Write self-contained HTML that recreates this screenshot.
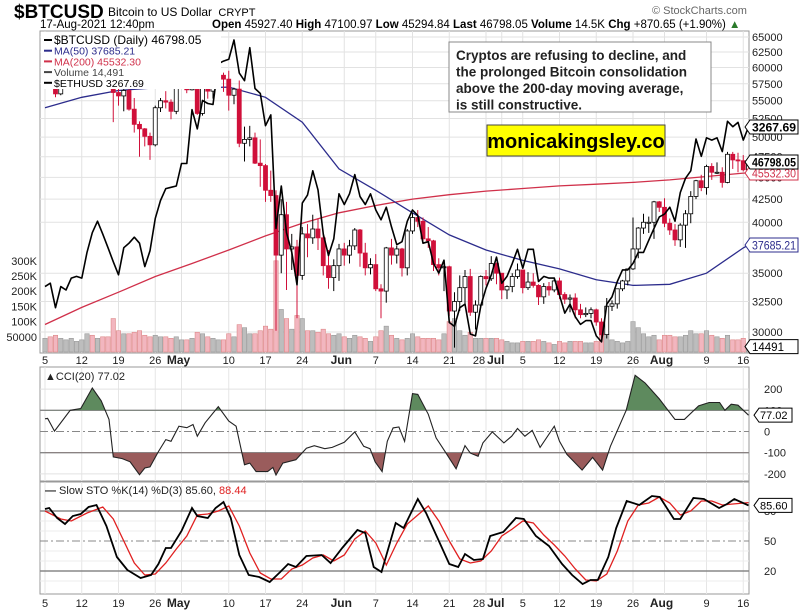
<!DOCTYPE html>
<html><head><meta charset="utf-8">
<style>
body{margin:0;background:#fff;width:803px;height:611px;overflow:hidden;font-family:"Liberation Sans",sans-serif;}
svg text{font-family:"Liberation Sans",sans-serif;}
</style></head>
<body>
<svg id="chart" width="803" height="611" viewBox="0 0 803 611" xmlns="http://www.w3.org/2000/svg">
  <rect x="0" y="0" width="803" height="611" fill="#fff"/>
  <text x="14" y="18" font-size="19" font-weight="bold">$BTCUSD</text>
  <text x="108" y="16" font-size="12">Bitcoin to US Dollar <tspan font-size="11" dx="3">CRYPT</tspan></text>
  <text x="40" y="28" font-size="11.5">17-Aug-2021 12:40pm</text>
  <text x="212" y="28" font-size="11.5"><tspan font-weight="bold">Open</tspan> 45927.40 <tspan font-weight="bold">High</tspan> 47100.97 <tspan font-weight="bold">Low</tspan> 45294.84 <tspan font-weight="bold">Last</tspan> 46798.05 <tspan font-weight="bold">Volume</tspan> 14.5K <tspan font-weight="bold">Chg</tspan> +870.65 (+1.90%) <tspan fill="#2a7a2a">▲</tspan></text>
  <text x="652" y="14" font-size="11" fill="#666">© StockCharts.com</text>
  <g id="main"></g>
  <g id="cci"></g>
  <g id="sto"></g>
</svg>
<script>
// ---------- DATA ----------
const closes = [58.7,57.9,56.0,58.0,58.1,59.8,59.8,59.9,63.5,63.0,63.1,61.3,60.0,56.2,55.7,56.5,53.8,51.7,51.1,50.1,49.0,54.0,55.0,54.8,53.5,57.7,
57.8,56.6,57.2,53.2,57.5,56.4,57.3,58.8,58.2,55.8,56.7,49.2,49.7,49.9,46.7,46.4,43.5,42.9,36.7,40.8,37.3,37.5,34.8,38.8,38.4,39.3,38.4,35.7,34.6,35.7,37.3,
36.7,37.6,39.2,36.9,35.5,35.8,33.6,33.4,37.4,36.7,37.3,35.5,39.1,40.5,40.1,38.3,38.1,35.8,35.5,35.6,31.7,32.5,33.7,34.7,31.6,32.2,34.7,34.5,35.9,35.0,
33.5,33.8,34.7,35.3,33.7,34.2,33.9,32.9,33.8,33.5,34.3,33.1,32.7,32.8,31.8,31.4,31.5,31.8,30.8,29.8,32.1,32.3,33.6,34.3,35.4,37.3,39.4,40.0,40.0,42.2,41.6,
39.9,39.2,38.2,39.7,40.9,42.8,44.6,43.8,46.3,45.6,45.6,44.4,47.8,47.1,47.0,45.9,46.8];
const firstOpen = 58.0;
const highs = [59.4,59.4,58.6,58.2,59.0,61.2,60.6,61.2,63.7,64.9,63.8,63.6,62.5,60.4,57.5,57.5,56.8,55.4,52.1,51.2,50.6,54.3,55.4,56.4,55.2,57.9,
58.4,57.9,58.9,57.2,57.9,58.3,58.6,59.5,59.2,59.5,56.9,58.0,51.4,51.5,50.6,49.7,46.6,45.8,43.5,42.5,42.2,38.8,38.2,39.5,39.8,40.8,40.4,38.9,37.2,36.3,37.8,
37.9,38.2,39.4,39.3,37.9,36.4,36.8,34.0,37.5,38.3,37.6,37.4,39.3,41.0,41.3,40.5,39.5,38.2,36.4,36.0,35.7,33.3,34.8,35.3,35.4,32.6,34.8,35.3,36.6,36.0,
35.0,33.9,35.0,35.9,35.3,35.1,35.0,34.0,34.1,34.2,34.6,34.6,33.3,33.1,33.2,32.3,32.0,32.0,31.9,31.1,32.8,32.6,33.6,34.4,35.4,40.5,39.5,40.9,40.6,42.3,42.3,
42.6,40.4,39.8,39.9,41.3,43.4,44.7,45.3,46.5,46.7,46.8,46.2,48.1,48.1,48.0,47.7,47.1];
const lows = [57.0,57.4,55.5,55.8,57.0,57.9,59.4,59.4,59.8,61.4,62.0,60.0,59.6,52.0,54.3,53.5,53.6,50.6,47.5,48.8,47.1,48.8,53.4,53.9,52.4,53.1,
57.0,56.1,56.5,53.0,52.9,55.3,55.3,56.9,56.3,53.6,54.5,48.7,46.9,48.8,46.6,43.9,42.2,42.2,30.1,35.0,33.5,35.3,31.1,34.4,36.5,37.8,37.2,34.8,33.6,33.4,34.3,
35.7,35.9,37.2,35.6,34.8,34.9,33.4,31.1,32.4,35.8,35.9,34.7,34.8,38.8,39.5,38.1,37.4,35.2,34.8,33.4,31.3,28.8,31.7,32.3,31.3,30.2,32.0,33.9,34.3,34.0,
32.7,32.7,33.3,34.5,33.2,33.5,33.7,32.2,32.3,33.0,33.3,32.7,32.3,31.6,31.1,31.1,31.2,31.1,30.5,29.3,29.5,31.7,31.9,33.4,33.9,35.3,36.4,38.8,38.9,38.3,41.1,
39.5,38.7,37.6,37.5,37.4,39.9,42.5,43.4,43.0,44.7,45.4,43.8,44.3,46.0,45.6,45.7,45.3];
const volumes = [45,50,55,45,40,45,35,40,60,55,45,50,50,110,70,60,60,65,70,55,50,55,50,50,45,50,
40,40,45,65,60,50,45,40,40,60,50,90,80,60,60,70,85,75,300,140,110,75,120,110,70,70,65,75,60,55,60,
50,45,55,50,45,35,50,70,85,55,45,40,45,60,50,45,45,45,40,60,100,110,70,55,65,45,45,45,45,45,
40,35,30,30,35,35,35,40,35,30,25,35,30,35,35,35,30,30,35,55,60,40,35,30,35,100,80,60,50,55,40,
55,55,50,50,55,70,60,60,70,55,50,45,55,40,40,45,14.5];
const ethCloses = [2090,2110,1970,2090,2070,2140,2150,2140,2300,2430,2510,2420,2330,2240,2160,2330,2360,2400,2360,2210,2310,2530,2660,2750,2760,2770,
2950,2950,3430,3250,3520,3490,3480,3900,3930,3950,4170,3800,3720,4080,3640,3590,3280,3380,2460,2770,2430,2300,2100,2640,2700,2890,2740,2420,2280,2390,2710,
2630,2710,2860,2690,2630,2710,2590,2520,2610,2470,2350,2370,2510,2590,2550,2360,2370,2230,2170,2250,1890,1870,1970,1990,1830,1820,1980,2080,2160,2270,
2110,2150,2230,2320,2200,2320,2320,2120,2150,2140,2140,2040,1940,1990,1920,1880,1900,1900,1820,1790,1990,2030,2120,2190,2190,2230,2300,2300,2380,2460,2540,
2560,2610,2510,2720,2830,2890,3160,3010,3170,3150,3170,3050,3320,3270,3310,3150,3267.69];
const ma50Days = [0,7,14,21,28,35,42,49,56,63,70,77,84,91,98,105,112,119,126,133,134];
const ma50Vals = [54000,55500,56500,56900,56900,57000,55500,52000,46000,43500,41000,38700,37200,36200,35400,34400,33900,34000,35000,37400,37685];
const ma200Days = [0,7,14,21,28,35,42,49,56,63,70,77,84,91,98,105,112,119,126,133,134];
const ma200Vals = [30600,32000,33300,34700,35900,37200,38600,39900,41000,41800,42500,43000,43400,43700,44000,44200,44400,44700,45100,45500,45532];
const cciDays = [0,0.5,1.8,4.8,6.8,9,10.7,12.2,13,14.7,16.2,18,19,20,21.6,23,24,25.5,27,28.2,29,30.5,33,35,36.4,38,39,40.2,42.4,43.4,44,45.3,47.8,49.8,51.3,53.3,54.7,57,59,60.7,61.9,62.9,64.2,65.2,66.3,67.4,68.5,70,71,73,74.5,76,78.3,80,81,82.5,83.4,85.2,87.4,88.9,90,91.4,92.8,94.3,97,98,99.4,102.3,104.3,106.2,107.7,110.7,112.4,114.3,117,120,121.8,124.5,126.5,128.5,129.5,130.7,132,134];
const cciVals = [60,62,2,100,108,205,145,57,-120,-128,-143,-204,-172,-167,-95,-38,-46,25,18,33,-22,41,117,49,25,-157,-149,-189,-189,-170,-205,-149,-133,-79,-67,-81,-75,-51,-2,-70,-81,-144,-189,-46,17,21,-46,179,175,81,-30,-87,-176,-67,-102,-117,-54,-2,-54,-22,14,-22,5,-75,25,-46,-108,-182,-122,-182,-70,100,265,229,154,57,57,121,137,137,100,129,124,77];
const kDays = [0,0.8,2.3,3.8,5.3,6.8,8.3,9.8,11.7,13.7,15.7,18.2,20.2,21.6,23,24,26,28,29,31,32.5,34,35.4,37,38.8,40.8,42.8,44.8,46.3,47.8,49.8,52.7,54.4,56.6,59.5,61,62.6,64.1,66.8,68.3,71,72.6,74.6,77,78.7,80,81.7,83.4,84.8,87.3,89.7,91.2,93.5,96,98.5,100.4,102.4,103.9,105.3,107.3,108.8,110.8,113.2,115.6,117.1,119.8,121,123.5,125.5,128.4,129.9,131.3,134];
const kVals = [82,83,73,67,75,77,84,86,65,34,21,13,16,27,43,43,60,83,75,73,83,89,73,36,16,14,9,19,27,24,35,36,28,43,61,58,24,19,68,63,92,78,55,27,24,37,31,32,55,59,73,72,55,45,27,16,7,11,11,34,63,90,86,95,94,72,72,93,92,83,87,92,85.6];
const dDays = [0,3,5,8,11,13,15,17,19,21,23,25,27,29,31,33,35,37,39,41,43,45,47,49,51,53,55,57,59,61,63,65,67,69,71,73,75,77,79,81,83,85,87,89,91,93,95,97,99,101,103,105,107,109,111,113,115,117,119,121,123,125,127,129,131,134];
const dVals = [80,72,70,78,84,72,50,28,16,17,28,42,55,76,77,80,85,65,38,18,12,12,22,26,33,36,30,36,52,60,48,26,48,67,76,85,70,50,32,28,30,40,55,62,70,68,56,46,35,22,11,10,17,40,70,86,88,94,88,76,80,90,90,86,87,88.44];
const tickDays = [0,7,14,21,26,35,42,49,57,63,70,77,84,87,91,98,105,112,118,126,133];
const tickLabels = ["5","12","19","26","May","10","17","24","Jun","7","14","21","28","Jul","5","12","19","26","Aug","9","16"];
const tickBold = [0,0,0,0,1,0,0,0,1,0,0,0,0,1,0,0,0,0,1,0,0];
const priceTicks = [65000,62500,60000,57500,55000,52500,50000,47500,45000,42500,40000,35000,32500,30000];
const volTicks = [300,250,200,150,100,50];
const volTickLabels = ["300K","250K","200K","150K","100K","50000"];
const cciTicks = [200,100,0,-100,-200];
const stoTicks = [80,50,20];

// ---------- AXES ----------
const L = 40, R = 749;
const MT = 31, MB = 353, CT = 367, CB = 481, ST = 482, SB = 594;
const X = d => 45 + d * 5.25;
const Yp = v => 37 + (Math.log(65000) - Math.log(v)) * 381.6;
const Ye = v => 127 + Math.log(3267.69 / v) * 357;
const Yv = k => 352 - k * 0.304;
const Yc = v => 431.5 - v * 0.212;
const Ys = v => 591 - v * 1.0;
const NS = "http://www.w3.org/2000/svg";
function mk(parent, tag, attrs, text) {
  const e = document.createElementNS(NS, tag);
  for (const k in attrs) e.setAttribute(k, attrs[k]);
  if (text !== undefined) e.textContent = text;
  parent.appendChild(e);
  return e;
}
function pts(days, vals, yf) { return days.map((d, i) => X(d).toFixed(1) + "," + yf(vals[i]).toFixed(1)).join(" "); }

const svg = document.getElementById("chart");
const defs = mk(svg, "defs", {});
const cp = mk(defs, "clipPath", {id: "clipMain"}); mk(cp, "rect", {x: L, y: MT, width: R - L, height: MB - MT});
const cp2 = mk(defs, "clipPath", {id: "clipUp"}); mk(cp2, "rect", {x: L, y: CT, width: R - L, height: Yc(100) - CT});
const cp3 = mk(defs, "clipPath", {id: "clipDn"}); mk(cp3, "rect", {x: L, y: Yc(-100), width: R - L, height: CB - Yc(-100)});

// ---------- MAIN PANEL ----------
const main = document.getElementById("main");
const frame = mk(main, "rect", {x: L, y: MT, width: R - L, height: MB - MT, fill: "#fff", stroke: "#999"});


tickDays.forEach(d => {
  const g = mk(main, "line", {x1: X(d), x2: X(d), y1: MT, y2: MB, stroke: "#e2e2e2"});
  
  
});
priceTicks.forEach(p => {
  const g = mk(main, "line", {x1: L, x2: R, y1: Yp(p), y2: Yp(p), stroke: "#e2e2e2"});
  
  
  const t = mk(main, "text", {x: 752, y: Yp(p) + 4, "font-size": 11, fill: "#222"}, String(p));
  
  
});
volTicks.forEach((v, i) => {
  const t = mk(main, "text", {x: 37, y: Yv(v) + 4, "font-size": 11, "text-anchor": "end", fill: "#222"}, volTickLabels[i]);
  
  
});
const mg = mk(main, "g", {"clip-path": "url(#clipMain)"});
volumes.forEach((v, i) => {
  const o = i === 0 ? firstOpen : closes[i - 1];
  const up = closes[i] >= o;
  const b = mk(mg, "rect", {x: X(i) - 2.2, y: Yv(v), width: 4.4, height: 352 - Yv(v), fill: up ? "#bdbdbd" : "#f2b6bf", stroke: up ? "#999" : "#d88", "stroke-width": 0.6});
  
  
});
const m200 = mk(mg, "polyline", {points: pts(ma200Days, ma200Vals, Yp), fill: "none", stroke: "#d0304a", "stroke-width": 1.3});


const m50 = mk(mg, "polyline", {points: pts(ma50Days, ma50Vals, Yp), fill: "none", stroke: "#2c2c8c", "stroke-width": 1.3});


closes.forEach((c, i) => {
  const o = i === 0 ? firstOpen : closes[i - 1];
  const up = c >= o;
  const x = X(i);
  const w = mk(mg, "line", {x1: x, x2: x, y1: Yp(highs[i] * 1000), y2: Yp(lows[i] * 1000), stroke: up ? "#000" : "#d0103a", "stroke-width": 1});
  
  
  const yt = Yp(Math.max(o, c) * 1000), yb = Yp(Math.min(o, c) * 1000);
  const b = mk(mg, "rect", {x: x - 2, y: yt, width: 4, height: Math.max(1, yb - yt), fill: up ? "#fff" : "#d0103a", stroke: up ? "#000" : "#d0103a", "stroke-width": 0.8});
  
  
});
const eth = mk(mg, "polyline", {points: pts(ethCloses.map((_, i) => i), ethCloses, Ye), fill: "none", stroke: "#000", "stroke-width": 1.6, "stroke-linejoin": "round"});


function dateAxis(y, name) {
  tickDays.forEach((d, i) => {
    let off = tickBold[i] ? -3 : 0;
    if (tickLabels[i] === "Jul") off = -6;
    if (tickLabels[i] === "28") off = -7;
    const t = mk(svg, "text", {x: X(d) + off, y: y, "font-size": tickBold[i] ? 12 : 11, "font-weight": tickBold[i] ? "bold" : "normal", "text-anchor": "middle", fill: "#222"}, tickLabels[i]);
    
    
  });
}
dateAxis(364, 'price-date-label');

function tag(y, text, color, bold, name) {
  const g = mk(svg, "g", {});
  
  
  mk(g, "polygon", {points: `745,${y} 750,${y - 7} 798,${y - 7} 798,${y + 7} 750,${y + 7}`, fill: "#fff", stroke: color, "stroke-width": 1});
  const attrs = {x: 752, y: y + 4.5, "font-size": 11.5, "font-weight": bold ? "bold" : "normal", fill: color};
  if (text.length > 6) { attrs.textLength = 44; attrs.lengthAdjust = "spacingAndGlyphs"; }
  mk(g, "text", attrs, text);
}
tag(Ye(ethCloses[ethCloses.length - 1]), "3267.69", "#000", true, 'eth-value-tag');
tag(173, "45532.30", "#d0304a", false, 'ma200-value-tag');
tag(162, "46798.05", "#000", true, 'price-value-tag');
tag(Yp(ma50Vals[ma50Vals.length - 1]), "37685.21", "#2c2c8c", false, 'ma50-value-tag');
tag(Yv(volumes[volumes.length - 1]) - 1, "14491", "#000", false, 'volume-value-tag');

const lg = mk(svg, "g", {});


mk(lg, "rect", {x: 41, y: 32, width: 180, height: 57, fill: "#fff"});
const legendItems = [["$BTCUSD (Daily) 46798.05", "#000"], ["MA(50) 37685.21", "#2c2c8c"], ["MA(200) 45532.30", "#d0304a"], ["Volume 14,491", "#444"], ["$ETHUSD 3267.69", "#000"]];
legendItems.forEach((it, i) => {
  const y = 43 + i * 10.7;
  mk(lg, "line", {x1: 44, x2: 52, y1: y - 3, y2: y - 3, stroke: it[1], "stroke-width": 2});
  mk(lg, "text", {x: 54, y: y + 1, "font-size": i === 0 ? 12 : 10.5, fill: it[1], "font-family": "DejaVu Sans, sans-serif"}, it[0]);
});

const cb = mk(svg, "g", {});


mk(cb, "rect", {x: 449, y: 42, width: 262, height: 70, fill: "#fff", stroke: "#888"});
["Cryptos are refusing to decline, and", "the prolonged Bitcoin consolidation", "above the 200-day moving average,", "is still constructive."].forEach((s, i) => {
  mk(cb, "text", {x: 456, y: 60 + i * 16.5, "font-size": 13.5, "font-weight": "bold", fill: "#222"}, s);
});
const yb = mk(svg, "g", {});


mk(yb, "rect", {x: 487, y: 125, width: 178, height: 31, fill: "#ffff00", stroke: "#444"});
mk(yb, "text", {x: 576, y: 148, "font-size": 20, "font-weight": "bold", "text-anchor": "middle", fill: "#000"}, "monicakingsley.co");

// ---------- CCI PANEL ----------
const cci = document.getElementById("cci");
const cf = mk(cci, "rect", {x: L, y: CT, width: R - L, height: CB - CT, fill: "#fff", stroke: "#999"});


tickDays.forEach(d => {
  const g = mk(cci, "line", {x1: X(d), x2: X(d), y1: CT, y2: CB, stroke: "#e6e6e6"});
  
  
});
cciTicks.forEach(v => {
  const solid = Math.abs(v) === 100;
  const g = mk(cci, "line", {x1: L, x2: R, y1: Yc(v), y2: Yc(v), stroke: solid ? "#888" : (v === 0 ? "#888" : "#e2e2e2"), "stroke-width": solid ? 1.4 : 1, "stroke-dasharray": v === 0 ? "8,3,2,3" : ""});
  
  
  const t = mk(cci, "text", {x: 764, y: Yc(v) + 4, "font-size": 11, fill: "#222"}, String(v));
  
  
});
const cpts = pts(cciDays, cciVals, Yc);
const x0 = X(cciDays[0]), x1 = X(cciDays[cciDays.length - 1]);
const fu = mk(cci, "polygon", {points: `${x0},${Yc(100)} ${cpts} ${x1},${Yc(100)}`, fill: "#5e8a5e", "clip-path": "url(#clipUp)"});


const fd = mk(cci, "polygon", {points: `${x0},${Yc(-100)} ${cpts} ${x1},${Yc(-100)}`, fill: "#9a5c5c", "clip-path": "url(#clipDn)"});


const cl = mk(cci, "polyline", {points: cpts, fill: "none", stroke: "#222", "stroke-width": 1.1});


const ct = mk(cci, "text", {x: 45, y: 380, "font-size": 11, fill: "#222", "font-family": "DejaVu Sans, sans-serif"}, "\u25B2CCI(20) 77.02");


const ctag = mk(cci, "g", {});


const cy = Yc(cciVals[cciVals.length - 1]);
mk(ctag, "polygon", {points: `754,${cy} 759,${cy - 7} 792,${cy - 7} 792,${cy + 7} 759,${cy + 7}`, fill: "#fff", stroke: "#000"});
mk(ctag, "text", {x: 760, y: cy + 4, "font-size": 11}, "77.02");

// ---------- STO PANEL ----------
const sto = document.getElementById("sto");
const sf = mk(sto, "rect", {x: L, y: ST, width: R - L, height: SB - ST, fill: "#fff", stroke: "#999"});


tickDays.forEach(d => {
  const g = mk(sto, "line", {x1: X(d), x2: X(d), y1: ST, y2: SB, stroke: "#e6e6e6"});
  
  
});
[10, 30, 40, 60, 70, 90].forEach(v => {
  const g = mk(sto, "line", {x1: L, x2: R, y1: Ys(v), y2: Ys(v), stroke: "#ececec"});
  
  
});
stoTicks.forEach(v => {
  const g = mk(sto, "line", {x1: L, x2: R, y1: Ys(v), y2: Ys(v), stroke: "#888", "stroke-width": v === 50 ? 1 : 1.4, "stroke-dasharray": v === 50 ? "8,3,2,3" : ""});
  
  
  const t = mk(sto, "text", {x: 764, y: Ys(v) + 4, "font-size": 11, fill: "#222"}, String(v));
  
  
});
const dl = mk(sto, "polyline", {points: pts(dDays, dVals, Ys), fill: "none", stroke: "#e02020", "stroke-width": 1.3});


const kl = mk(sto, "polyline", {points: pts(kDays, kVals, Ys), fill: "none", stroke: "#000", "stroke-width": 1.8});


const st = mk(sto, "text", {x: 45, y: 494, "font-size": 11, fill: "#222", "font-family": "DejaVu Sans, sans-serif"});


st.innerHTML = '<tspan font-weight="bold">\u2014</tspan> Slow STO %K(14) %D(3) 85.60, <tspan fill="#e02020">88.44</tspan>';
const stag = mk(sto, "g", {});


const sy = Ys(kVals[kVals.length - 1]);
mk(stag, "polygon", {points: `754,${sy} 759,${sy - 7} 792,${sy - 7} 792,${sy + 7} 759,${sy + 7}`, fill: "#fff", stroke: "#000"});
mk(stag, "text", {x: 760, y: sy + 4, "font-size": 11}, "85.60");
dateAxis(607, 'bottom-date-label');
</script>
</body></html>
